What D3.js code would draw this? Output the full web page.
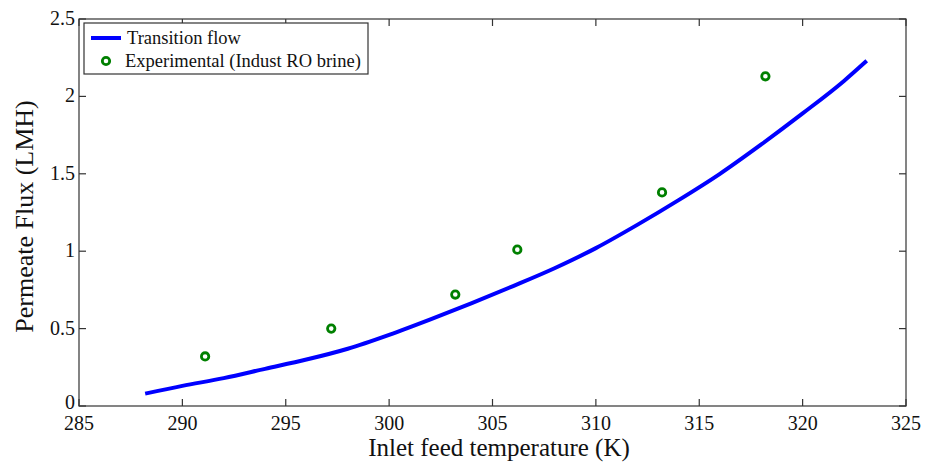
<!DOCTYPE html>
<html>
<head>
<meta charset="utf-8">
<script src="https://cdn.jsdelivr.net/npm/d3@7"></script>
<style>
  body { margin: 0; background: #fff; }
  text { font-family: "Liberation Serif", "Times New Roman", serif; fill: #111; }
</style>
</head>
<body>
<div id="plot"></div>
<script>
// model curve (Transition flow)
const modelTemp = [288.2, 290, 292, 294, 296, 298, 300, 302, 304, 306, 308, 310, 312, 314, 316, 318, 320, 322, 323.1];
const modelFlux = [0.08, 0.13, 0.18, 0.24, 0.30, 0.37, 0.46, 0.56, 0.665, 0.775, 0.89, 1.02, 1.17, 1.33, 1.50, 1.69, 1.89, 2.10, 2.23];

// experimental points (Indust RO brine)
const expTemp = [291.1, 297.2, 303.2, 306.2, 313.2, 318.2];
const expFlux = [0.32, 0.50, 0.72, 1.01, 1.38, 2.13];

const xTicks = [285, 290, 295, 300, 305, 310, 315, 320, 325];
const yTicks = [0, 0.5, 1, 1.5, 2, 2.5];

const width = 933, height = 463;
const margin = { left: 79, right: 27, top: 19, bottom: 57 };
const iw = width - margin.left - margin.right;
const ih = height - margin.top - margin.bottom;

const svg = d3.select("#plot").append("svg")
  .attr("width", width)
  .attr("height", height);

const g = svg.append("g")
  .attr("transform", `translate(${margin.left},${margin.top})`);

const x = d3.scaleLinear().domain([285, 325]).range([0, iw]);
const y = d3.scaleLinear().domain([0, 2.5]).range([ih, 0]);

const axisColor = "#333";
const tickLen = 7;

// box
g.append("rect")
  .attr("width", iw).attr("height", ih)
  .attr("fill", "none").attr("stroke", axisColor).attr("stroke-width", 1.2);

// ticks (inward, all four sides)
xTicks.forEach(t => {
  g.append("line").attr("x1", x(t)).attr("x2", x(t)).attr("y1", ih).attr("y2", ih - tickLen)
    .attr("stroke", axisColor).attr("stroke-width", 1.2);
  g.append("line").attr("x1", x(t)).attr("x2", x(t)).attr("y1", 0).attr("y2", tickLen)
    .attr("stroke", axisColor).attr("stroke-width", 1.2);
  g.append("text").attr("x", x(t)).attr("y", ih + 24)
    .attr("text-anchor", "middle").attr("font-size", 20).text(t);
});
yTicks.forEach(t => {
  g.append("line").attr("x1", 0).attr("x2", tickLen).attr("y1", y(t)).attr("y2", y(t))
    .attr("stroke", axisColor).attr("stroke-width", 1.2);
  g.append("line").attr("x1", iw).attr("x2", iw - tickLen).attr("y1", y(t)).attr("y2", y(t))
    .attr("stroke", axisColor).attr("stroke-width", 1.2);
  g.append("text").attr("x", -4).attr("y", y(t) + (t === 0 ? 3 : 6))
    .attr("text-anchor", "end").attr("font-size", 20).text(t);
});

// axis titles
svg.append("text")
  .attr("x", 499).attr("y", 456)
  .attr("text-anchor", "middle").attr("font-size", 25)
  .text("Inlet feed temperature (K)");
svg.append("text")
  .attr("transform", `translate(33,${margin.top + ih / 2 + 4}) rotate(-90)`)
  .attr("text-anchor", "middle").attr("font-size", 26)
  .text("Permeate Flux (LMH)");

// model line
const line = d3.line()
  .x((d, i) => x(modelTemp[i]))
  .y(d => y(d))
  .curve(d3.curveMonotoneX);
g.append("path")
  .datum(modelFlux)
  .attr("d", line)
  .attr("fill", "none")
  .attr("stroke", "#0000ff")
  .attr("stroke-width", 4);

// experimental markers
g.selectAll(".pt")
  .data(expFlux)
  .enter().append("circle")
  .attr("class", "pt")
  .attr("cx", (d, i) => x(expTemp[i]))
  .attr("cy", d => y(d))
  .attr("r", 3.7)
  .attr("fill", "#fff")
  .attr("stroke", "#008000")
  .attr("stroke-width", 2.8);

// legend
const lg = svg.append("g").attr("transform", "translate(84,23)");
lg.append("rect").attr("width", 284).attr("height", 51)
  .attr("fill", "#fff").attr("stroke", axisColor).attr("stroke-width", 1.2);
lg.append("line").attr("x1", 7).attr("x2", 37).attr("y1", 15).attr("y2", 15)
  .attr("stroke", "#0000ff").attr("stroke-width", 4);
lg.append("text").attr("x", 43).attr("y", 21).attr("font-size", 18.5).text("Transition flow");
lg.append("circle").attr("cx", 22).attr("cy", 38).attr("r", 3.7)
  .attr("fill", "#fff").attr("stroke", "#008000").attr("stroke-width", 2.8);
lg.append("text").attr("x", 41).attr("y", 44).attr("font-size", 18.5).text("Experimental (Indust RO brine)");
</script>
</body>
</html>
